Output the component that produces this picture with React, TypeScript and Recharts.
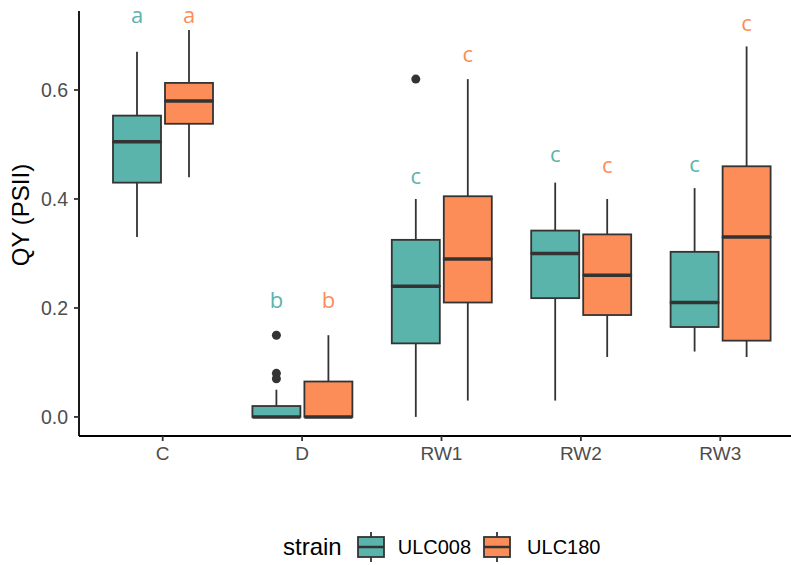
import React from 'react';
import { ComposedChart, Bar, XAxis, YAxis, Legend, Label } from 'recharts';

const categories = ['C', 'D', 'RW1', 'RW2', 'RW3'];
const strains = ['ULC008', 'ULC180'];
const strainColors = ['#5AB4AC', '#FC8D59'];

// box statistics
const ulc008Min = [0.33, 0, 0, 0.03, 0.12];
const ulc008Q1 = [0.43, 0, 0.135, 0.218, 0.165];
const ulc008Median = [0.505, 0, 0.24, 0.3, 0.21];
const ulc008Q3 = [0.553, 0.02, 0.325, 0.342, 0.303];
const ulc008Max = [0.67, 0.05, 0.4, 0.43, 0.42];
const ulc008Outliers = [[], [0.15, 0.08, 0.07], [0.62], [], []];
const ulc008Letters = ['a', 'b', 'c', 'c', 'c'];
const ulc008LetterAt = [0.734, 0.211, 0.438, 0.479, 0.461];

const ulc180Min = [0.44, 0, 0.03, 0.11, 0.11];
const ulc180Q1 = [0.538, 0, 0.21, 0.187, 0.14];
const ulc180Median = [0.58, 0, 0.29, 0.26, 0.33];
const ulc180Q3 = [0.613, 0.065, 0.405, 0.335, 0.46];
const ulc180Max = [0.71, 0.15, 0.62, 0.4, 0.68];
const ulc180Outliers = [[], [], [], [], []];
const ulc180Letters = ['a', 'b', 'c', 'c', 'c'];
const ulc180LetterAt = [0.734, 0.211, 0.662, 0.459, 0.719];

const yTicks = [0, 0.2, 0.4, 0.6];

const stats = [
  { min: ulc008Min, q1: ulc008Q1, median: ulc008Median, q3: ulc008Q3, max: ulc008Max, outliers: ulc008Outliers, letters: ulc008Letters, letterAt: ulc008LetterAt },
  { min: ulc180Min, q1: ulc180Q1, median: ulc180Median, q3: ulc180Q3, max: ulc180Max, outliers: ulc180Outliers, letters: ulc180Letters, letterAt: ulc180LetterAt },
];

const data = categories.map((cat, i) => {
  const row: any = { cat, idx: i };
  stats.forEach((s, k) => {
    row[`s${k}_base`] = s.min[i];
    row[`s${k}_lw`] = s.q1[i] - s.min[i];
    row[`s${k}_lb`] = s.median[i] - s.q1[i];
    row[`s${k}_hb`] = s.q3[i] - s.median[i];
    row[`s${k}_hw`] = s.max[i] - s.q3[i];
    row[`s${k}_gap`] = s.letterAt[i] - s.max[i];
  });
  return row;
});

const LINE = '#333333';
const FONT = '"Liberation Sans", Arial, sans-serif';
const SW = 1.8;

const Empty = () => <g />;

const Whisker = (props: any) => {
  const { x, y, width, height } = props;
  if (!height) return <g />;
  const cx = x + width / 2;
  return <line x1={cx} x2={cx} y1={y} y2={y + height} stroke={LINE} strokeWidth={SW} />;
};

const makeLowBox = (k: number) => (props: any) => {
  const { x, y, width, height } = props;
  if (!height) return <g />;
  return <rect x={x} y={y} width={width} height={height} fill={strainColors[k]} stroke={LINE} strokeWidth={SW} />;
};

const makeHighBox = (k: number) => (props: any) => {
  const { x, y, width, height } = props;
  return (
    <g>
      {height ? <rect x={x} y={y} width={width} height={height} fill={strainColors[k]} stroke={LINE} strokeWidth={SW} /> : null}
      <line x1={x} x2={x + width} y1={y + height} y2={y + height} stroke={LINE} strokeWidth={3.5} />
    </g>
  );
};

// top segment runs from the whisker end to the letter; its scale places outliers and letter
const makeTop = (k: number) => (props: any) => {
  const { x, y, width, height, payload } = props;
  const i = payload.idx;
  const s = stats[k];
  const span = s.letterAt[i] - s.max[i];
  const perUnit = height / span;
  const cx = x + width / 2;
  return (
    <g>
      {s.outliers[i].map((o: number, j: number) => (
        <circle key={j} cx={cx} cy={y + (s.letterAt[i] - o) * perUnit} r={4.5} fill={LINE} />
      ))}
      <text x={cx} y={y} dy="0.27em" textAnchor="middle" fontSize={22} fontFamily='"Open Sans", sans-serif' fill={strainColors[k]}>
        {s.letters[i]}
      </text>
    </g>
  );
};

const LegendIcon = ({ color }: { color: string }) => (
  <svg width={28} height={30} style={{ display: 'block' }}>
    <line x1={14} x2={14} y1={0} y2={5} stroke={LINE} strokeWidth={SW} />
    <line x1={14} x2={14} y1={25} y2={30} stroke={LINE} strokeWidth={SW} />
    <rect x={1} y={5} width={26} height={20} fill={color} stroke={LINE} strokeWidth={SW} />
    <line x1={1} x2={27} y1={15} y2={15} stroke={LINE} strokeWidth={2.5} />
  </svg>
);

const StrainLegend = () => (
  <div style={{ display: 'flex', alignItems: 'center', height: 36, paddingLeft: 283, fontFamily: FONT, color: '#000' }}>
    <span style={{ fontSize: 24, marginRight: 15 }}>strain</span>
    <LegendIcon color={strainColors[0]} />
    <span style={{ fontSize: 20, marginLeft: 13, marginRight: 12 }}>{strains[0]}</span>
    <LegendIcon color={strainColors[1]} />
    <span style={{ fontSize: 20, marginLeft: 16 }}>{strains[1]}</span>
  </div>
);

const YTitle = () => (
  <text x={28.5} y={215} transform="rotate(-90 28.5 215)" textAnchor="middle" fontSize={24} fontFamily={FONT} fill="#000">
    QY (PSII)
  </text>
);

export default function App() {
  return (
    <div style={{ position: 'absolute', left: 0, top: 0, background: '#fff' }}>
      <ComposedChart width={791} height={565} data={data} margin={{ top: 11, right: 0, bottom: 0, left: 0 }} barSize={48} barGap={4}>
        <XAxis
          dataKey="cat"
          interval={0}
          height={93}
          padding={{ left: 14, right: 1 }}
          axisLine={{ stroke: '#000', strokeWidth: 1.8 }}
          tickLine={{ stroke: LINE, strokeWidth: 1.8 }}
          tickSize={5}
          tickMargin={6}
          tick={{ fill: '#4D4D4D', fontSize: 19, fontFamily: FONT }}
        />
        <YAxis
          type="number"
          domain={[-0.035, 0.745]}
          allowDataOverflow
          ticks={yTicks}
          tickFormatter={(v: number) => v.toFixed(1)}
          width={79}
          axisLine={{ stroke: '#000', strokeWidth: 1.8 }}
          tickLine={{ stroke: LINE, strokeWidth: 1.8 }}
          tickSize={5}
          tickMargin={6}
          tick={{ fill: '#4D4D4D', fontSize: 19.5, fontFamily: FONT }}
        >
          <Label content={<YTitle />} />
        </YAxis>
        <Legend verticalAlign="bottom" content={<StrainLegend />} />
        {stats.map((_, k) => [
          <Bar key={`b${k}`} dataKey={`s${k}_base`} stackId={`s${k}`} shape={<Empty />} isAnimationActive={false} legendType="none" />,
          <Bar key={`lw${k}`} dataKey={`s${k}_lw`} stackId={`s${k}`} shape={<Whisker />} isAnimationActive={false} legendType="none" />,
          <Bar key={`lb${k}`} dataKey={`s${k}_lb`} stackId={`s${k}`} shape={makeLowBox(k)} isAnimationActive={false} legendType="none" />,
          <Bar key={`hb${k}`} dataKey={`s${k}_hb`} stackId={`s${k}`} shape={makeHighBox(k)} isAnimationActive={false} legendType="none" />,
          <Bar key={`hw${k}`} dataKey={`s${k}_hw`} stackId={`s${k}`} shape={<Whisker />} isAnimationActive={false} legendType="none" />,
          <Bar key={`g${k}`} dataKey={`s${k}_gap`} stackId={`s${k}`} shape={makeTop(k)} isAnimationActive={false} legendType="none" />,
        ])}
      </ComposedChart>
    </div>
  );
}
